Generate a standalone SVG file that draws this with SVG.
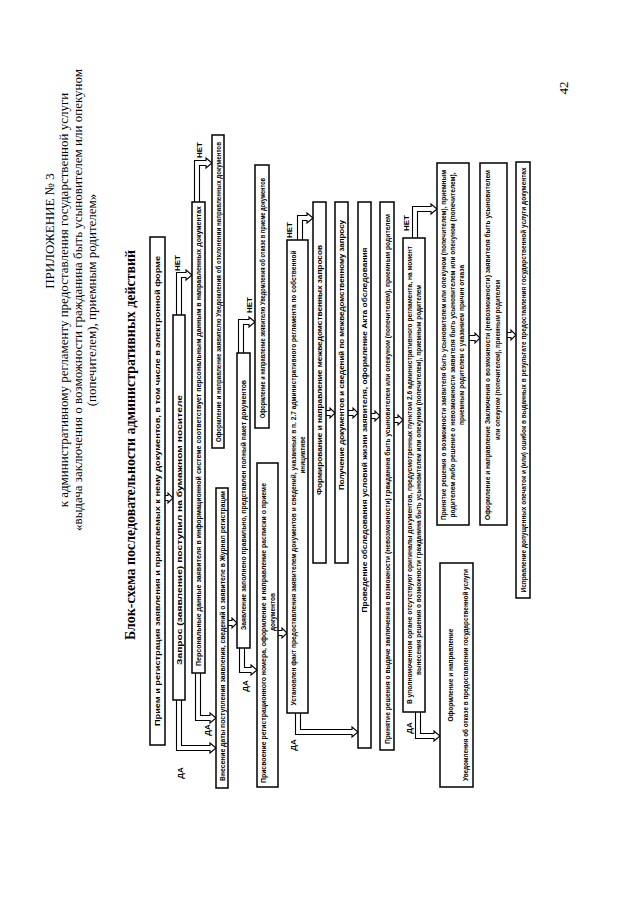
<svg xmlns="http://www.w3.org/2000/svg" width="640" height="905" viewBox="0 0 640 905">
<style>
.box{fill:#fff;stroke:#000;stroke-width:1.5}
.arr{fill:#fff;stroke:#000;stroke-width:1.1}
.t{font-family:"Liberation Sans",Arial,sans-serif;font-size:7px;font-weight:bold;fill:#000;text-anchor:middle}
.lbl{font-family:"Liberation Sans",Arial,sans-serif;font-size:8px;font-weight:bold;fill:#000;text-anchor:middle}
.title{font-family:"Liberation Serif","Times New Roman",serif;font-size:13px;fill:#000;text-anchor:middle}
.head{font-family:"Liberation Serif","Times New Roman",serif;font-size:14px;font-weight:bold;fill:#000;text-anchor:middle}
</style>
<rect width="640" height="905" fill="#fff"/>
<g id="header">
<text class="title" transform="translate(54,231) rotate(-90)">ПРИЛОЖЕНИЕ № 3</text>
<text class="title" transform="translate(68,300) rotate(-90)">к административному регламенту предоставления государственной услуги</text>
<text class="title" transform="translate(82,300) rotate(-90)">«выдача заключения о возможности гражданина быть усыновителем или опекуном</text>
<text class="title" transform="translate(96,300) rotate(-90)">(попечителем), приемным родителем»</text>
<text class="head" transform="translate(135,445) rotate(-90)" textLength="390" lengthAdjust="spacingAndGlyphs">Блок-схема последовательности административных действий</text>
<text class="title" transform="translate(568,88) rotate(-90)">42</text>
</g>
<g id="connectors">
<path class="arr" d="M165,495.5 L168,495.5 L168,493 L173,498 L168,503 L168,500.5 L165,500.5"/>
<path class="arr" d="M228,620.5 L232,620.5 L232,618 L237,623 L232,628 L232,625.5 L228,625.5"/>
<path class="arr" d="M278,630.5 L282,630.5 L282,628 L287,633 L282,638 L282,635.5 L278,635.5"/>
<path class="arr" d="M326,410.5 L330,410.5 L330,408 L335,413 L330,418 L330,415.5 L326,415.5"/>
<path class="arr" d="M348,410.5 L353,410.5 L353,408 L358,413 L353,418 L353,415.5 L348,415.5"/>
<path class="arr" d="M371,413.5 L375,413.5 L375,411 L380,416 L375,421 L375,418.5 L371,418.5"/>
<path class="arr" d="M394,417.5 L398,417.5 L398,415 L403,420 L398,425 L398,422.5 L394,422.5"/>
<path class="arr" d="M469,335.5 L475,335.5 L475,333 L480,338 L475,343 L475,340.5 L469,340.5"/>
<path class="arr" d="M507,332.5 L511,332.5 L511,330 L516,335 L511,340 L511,337.5 L507,337.5"/>
<path class="arr" d="M176.5,315 L176.5,272.5 L186,272.5 L186,270 L192,275 L186,280 L186,277.5 L181.5,277.5 L181.5,315"/>
<path class="arr" d="M194.5,202 L194.5,160.5 L206,160.5 L206,158 L212,163 L206,168 L206,165.5 L199.5,165.5 L199.5,202"/>
<path class="arr" d="M238.5,353 L238.5,319.5 L249,319.5 L249,317 L255,322 L249,327 L249,324.5 L243.5,324.5 L243.5,353"/>
<path class="arr" d="M297.5,240 L297.5,215.5 L307,215.5 L307,213 L313,218 L307,223 L307,220.5 L302.5,220.5 L302.5,240"/>
<path class="arr" d="M412.5,238 L412.5,206.5 L431,206.5 L431,204 L437,209 L431,214 L431,211.5 L417.5,211.5 L417.5,238"/>
<path class="arr" d="M176.5,700 L176.5,750.5 L210,750.5 L210,753 L216,748 L210,743 L210,745.5 L181.5,745.5 L181.5,700"/>
<path class="arr" d="M195.5,673 L195.5,720.5 L210,720.5 L210,723 L216,718 L210,713 L210,715.5 L200.5,715.5 L200.5,673"/>
<path class="arr" d="M239.5,648 L239.5,672.5 L251,672.5 L251,675 L257,670 L251,665 L251,667.5 L244.5,667.5 L244.5,648"/>
<path class="arr" d="M295.5,713 L295.5,734.5 L352,734.5 L352,737 L358,732 L352,727 L352,729.5 L300.5,729.5 L300.5,713"/>
<path class="arr" d="M415.5,712 L415.5,738.5 L434,738.5 L434,741 L440,736 L434,731 L434,733.5 L420.5,733.5 L420.5,712"/>
<text class="lbl" transform="translate(180,263) rotate(-90)">НЕТ</text>
<text class="lbl" transform="translate(202,150) rotate(-90)">НЕТ</text>
<text class="lbl" transform="translate(252,305) rotate(-90)">НЕТ</text>
<text class="lbl" transform="translate(292,230) rotate(-90)">НЕТ</text>
<text class="lbl" transform="translate(409,223) rotate(-90)">НЕТ</text>
<text class="lbl" transform="translate(183,773) rotate(-90)">ДА</text>
<text class="lbl" transform="translate(210,730) rotate(-90)">ДА</text>
<text class="lbl" transform="translate(248,686) rotate(-90)">ДА</text>
<text class="lbl" transform="translate(296,745) rotate(-90)">ДА</text>
<text class="lbl" transform="translate(412,728) rotate(-90)">ДА</text>
</g>
<g id="nA"><rect class="box" x="150" y="237" width="15" height="508"/>
<text class="t" transform="translate(160,491) rotate(-90)" textLength="470" lengthAdjust="spacingAndGlyphs">Прием и регистрация заявления и прилагаемых к нему документов, в том числе в электронной форме</text></g>
<g id="nB"><rect class="box" x="173" y="315" width="12" height="385"/>
<text class="t" transform="translate(181.5,530) rotate(-90)" textLength="270" lengthAdjust="spacingAndGlyphs">Запрос (заявление) поступил на бумажном носителе</text></g>
<g id="nC"><rect class="box" x="192" y="202" width="13" height="471"/>
<text class="t" transform="translate(201,436) rotate(-90)" textLength="460" lengthAdjust="spacingAndGlyphs">Персональные данные заявителя в информационной системе соответствует персональным данным в направленных документах</text></g>
<g id="nQ"><rect class="box" x="212" y="135" width="12" height="313"/>
<text class="t" transform="translate(220.5,292) rotate(-90)" textLength="300" lengthAdjust="spacingAndGlyphs">Оформление и направление заявителю Уведомления об отклонении направленных документов</text></g>
<g id="nD"><rect class="box" x="216" y="488" width="12" height="300"/>
<text class="t" transform="translate(224.5,636) rotate(-90)" textLength="290" lengthAdjust="spacingAndGlyphs">Внесение даты поступления заявления, сведений о заявителе в Журнал регистрации</text></g>
<g id="nE"><rect class="box" x="237" y="353" width="13" height="295"/>
<text class="t" transform="translate(246,505) rotate(-90)" textLength="250" lengthAdjust="spacingAndGlyphs">Заявление заполнено правильно, представлен полный пакет документов</text></g>
<g id="nR"><rect class="box" x="255" y="165" width="14" height="263"/>
<text class="t" transform="translate(264.5,298) rotate(-90)" textLength="240" lengthAdjust="spacingAndGlyphs">Оформление и направление заявителю Уведомления об отказе в приеме документов</text></g>
<g id="nF"><rect class="box" x="257" y="463" width="21" height="324"/>
<text class="t" transform="translate(265.5,633) rotate(-90)" textLength="300" lengthAdjust="spacingAndGlyphs">Присвоение регистрационного номера, оформление и направление расписки о приеме</text>
<text class="t" transform="translate(274.5,612) rotate(-90)" textLength="38" lengthAdjust="spacingAndGlyphs">документов</text></g>
<g id="nG"><rect class="box" x="287" y="240" width="21" height="473"/>
<text class="t" transform="translate(295.5,478) rotate(-90)" textLength="455" lengthAdjust="spacingAndGlyphs">Установлен факт предоставления заявителем документов и сведений, указанных в п. 2.7 административного регламента по собственной</text>
<text class="t" transform="translate(304.5,455) rotate(-90)" textLength="37" lengthAdjust="spacingAndGlyphs">инициативе</text></g>
<g id="nH"><rect class="box" x="313" y="202" width="13" height="361"/>
<text class="t" transform="translate(322,370) rotate(-90)" textLength="250" lengthAdjust="spacingAndGlyphs">Формирование и направление межведомственных запросов</text></g>
<g id="nI"><rect class="box" x="335" y="202" width="13" height="361"/>
<text class="t" transform="translate(344,355) rotate(-90)" textLength="270" lengthAdjust="spacingAndGlyphs">Получение документов и сведений по межведомственному запросу</text></g>
<g id="nJ"><rect class="box" x="358" y="202" width="13" height="546"/>
<text class="t" transform="translate(367,430) rotate(-90)" textLength="365" lengthAdjust="spacingAndGlyphs">Проведение обследования условий жизни заявителя, оформление Акта обследования</text></g>
<g id="nK"><rect class="box" x="380" y="202" width="14" height="548"/>
<text class="t" transform="translate(389.5,479) rotate(-90)" textLength="530" lengthAdjust="spacingAndGlyphs">Принятие решения о выдаче заключения о возможности (невозможности) гражданина быть усыновителем или опекуном (попечителем), приемным родителем</text></g>
<g id="nL"><rect class="box" x="403" y="238" width="22" height="474"/>
<text class="t" transform="translate(411.5,475) rotate(-90)" textLength="458" lengthAdjust="spacingAndGlyphs">В уполномоченном органе отсутствуют оригиналы документов, предусмотренных пунктом 2.6 административного регламента, на момент</text>
<text class="t" transform="translate(420.5,480) rotate(-90)" textLength="390" lengthAdjust="spacingAndGlyphs">вынесения решения о возможности гражданина быть усыновителем или опекуном (попечителем), приемным родителем</text></g>
<g id="nM"><rect class="box" x="437" y="163" width="32" height="362"/>
<text class="t" transform="translate(446,345) rotate(-90)" textLength="350" lengthAdjust="spacingAndGlyphs">Принятие решения о возможности заявителя быть усыновителем или опекуном (попечителем), приемным</text>
<text class="t" transform="translate(455,345) rotate(-90)" textLength="345" lengthAdjust="spacingAndGlyphs">родителем либо решение о невозможности заявителя быть усыновителем или опекуном (попечителем),</text>
<text class="t" transform="translate(464,345) rotate(-90)" textLength="160" lengthAdjust="spacingAndGlyphs">приемным родителем с указанием причин отказа</text></g>
<g id="nO"><rect class="box" x="480" y="163" width="27" height="362"/>
<text class="t" transform="translate(490,345) rotate(-90)" textLength="350" lengthAdjust="spacingAndGlyphs">Оформление и направление Заключения о возможности (невозможности) заявителя быть усыновителем</text>
<text class="t" transform="translate(500,360) rotate(-90)" textLength="160" lengthAdjust="spacingAndGlyphs">или опекуном (попечителем), приемным родителем</text></g>
<g id="nP"><rect class="box" x="516" y="162" width="14" height="436"/>
<text class="t" transform="translate(525.5,380) rotate(-90)" textLength="425" lengthAdjust="spacingAndGlyphs">Исправление допущенных опечаток и (или) ошибок в выданных в результате предоставления государственной услуги документах</text></g>
<g id="nN"><rect class="box" x="440" y="563" width="33" height="224"/>
<text class="t" transform="translate(452.5,675) rotate(-90)" textLength="93" lengthAdjust="spacingAndGlyphs">Оформление и направление</text>
<text class="t" transform="translate(467.5,675) rotate(-90)" textLength="212" lengthAdjust="spacingAndGlyphs">Уведомления об отказе в предоставлении государственной услуги</text></g>
</svg>
